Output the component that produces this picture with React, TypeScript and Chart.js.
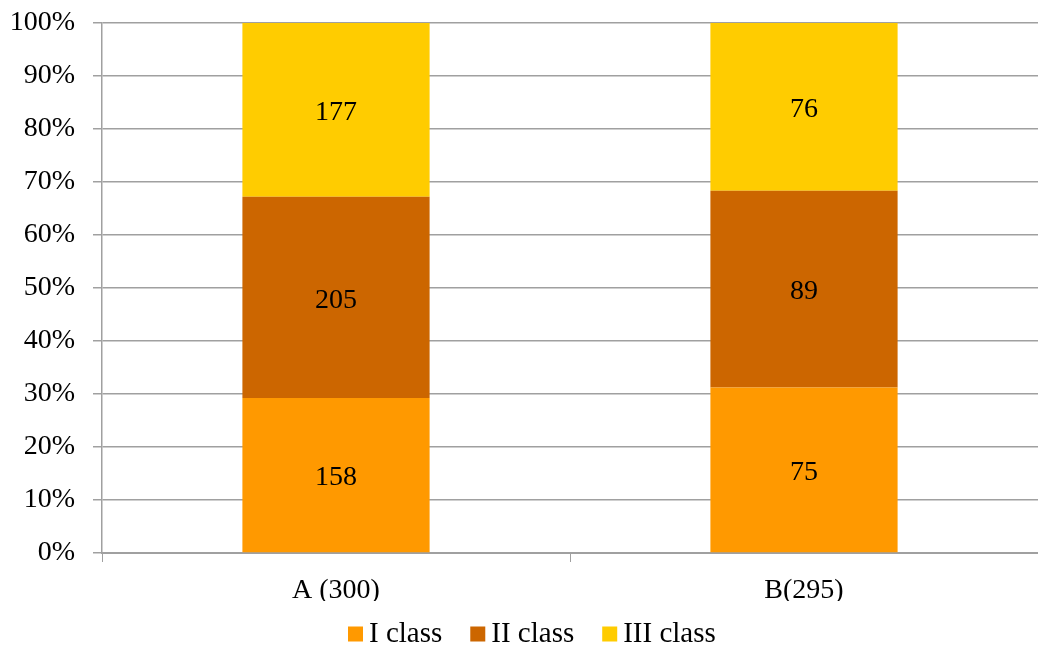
import React, { useEffect, useRef } from "react";
import { Chart, registerables } from "chart.js";

Chart.register(...registerables);

const categories = ["A (300)", "B(295)"];
const seriesNames = ["I class", "II class", "III class"];
const classI = [158, 75];
const classII = [205, 89];
const classIII = [177, 76];
const seriesColors = ["#FF9900", "#CC6600", "#FFCC00"];
const yTicks = [0, 10, 20, 30, 40, 50, 60, 70, 80, 90, 100];

const FONT = "'Liberation Serif', 'Times New Roman', serif";

export default function App() {
  const ref = useRef<HTMLCanvasElement | null>(null);

  useEffect(() => {
    const counts = [classI, classII, classIII];
    const totals = categories.map((_, i) => counts.reduce((s, arr) => s + arr[i], 0));
    const datasets = counts.map((arr, k) => ({
      label: seriesNames[k],
      data: arr.map((v, i) => (v / totals[i]) * 100),
      counts: arr,
      backgroundColor: seriesColors[k],
      borderWidth: 0,
      barPercentage: 0.4,
      categoryPercentage: 1,
    }));

    const labelPlugin = {
      id: "segLabels",
      afterDatasetsDraw(chart: any) {
        const ctx = chart.ctx;
        ctx.save();
        ctx.font = `28px ${FONT}`;
        ctx.fillStyle = "#000";
        ctx.textAlign = "center";
        ctx.textBaseline = "middle";
        chart.data.datasets.forEach((ds: any, di: number) => {
          const meta = chart.getDatasetMeta(di);
          meta.data.forEach((bar: any, i: number) => {
            const y = (bar.y + bar.base) / 2 + 3;
            ctx.fillText(String(ds.counts[i]), bar.x, y);
          });
        });
        ctx.restore();
      },
    };

    const legendPlugin = {
      id: "customLegend",
      afterDraw(chart: any) {
        const ctx = chart.ctx;
        ctx.save();
        ctx.font = `29px ${FONT}`;
        ctx.textBaseline = "middle";
        ctx.textAlign = "left";
        const box = 15;
        const gapBoxText = 6;
        const gapItems = 28;
        let x = 348;
        const cy = 634;
        chart.data.datasets.forEach((ds: any) => {
          const w = ctx.measureText(ds.label).width;
          ctx.fillStyle = ds.backgroundColor;
          ctx.fillRect(x, cy - box / 2, box, box);
          ctx.fillStyle = "#000";
          ctx.fillText(ds.label, x + box + gapBoxText, cy);
          x += box + gapBoxText + w + gapItems;
        });
        ctx.restore();
      },
    };

    const chart = new Chart(ref.current as HTMLCanvasElement, {
      type: "bar",
      data: { labels: categories, datasets: datasets as any },
      options: {
        animation: false,
        responsive: false,
        maintainAspectRatio: false,
        layout: { padding: { top: 0, right: 0, left: 0, bottom: 44 } },
        plugins: {
          legend: { display: false },
          tooltip: { enabled: false },
        },
        scales: {
          x: {
            stacked: true,
            grid: {
              offset: true,
              drawOnChartArea: false,
              drawTicks: true,
              tickLength: 9,
              color: "#a0a0a0",
            },
            border: { color: "#a0a0a0", width: 2 },
            ticks: {
              font: { family: FONT, size: 28 },
              color: "#000",
              padding: 12,
            },
            afterFit(scale: any) {
              scale.height = 48;
              scale.paddingLeft = 0;
              scale.paddingRight = 0;
            },
          },
          y: {
            stacked: true,
            min: 0,
            max: 100,
            afterBuildTicks(scale: any) {
              scale.ticks = yTicks.map((v) => ({ value: v }));
            },
            grid: { color: "#a0a0a0", lineWidth: 1.5, tickLength: 9 },
            border: { color: "#a0a0a0", width: 1.5 },
            ticks: {
              font: { family: FONT, size: 28 },
              color: "#000",
              padding: 18,
              callback: (v: any) => `${v}%`,
            },
            afterFit(scale: any) {
              scale.width = 102;
              scale.paddingTop = 23;
              scale.paddingBottom = 0;
            },
          },
        },
      },
      plugins: [labelPlugin, legendPlugin],
    });
    return () => chart.destroy();
  }, []);

  return (
    <div style={{ position: "fixed", left: 0, top: 0, width: 1038, height: 645, background: "#fff" }}>
      <canvas ref={ref} width={1038} height={645} style={{ width: 1038, height: 645 }} />
    </div>
  );
}
